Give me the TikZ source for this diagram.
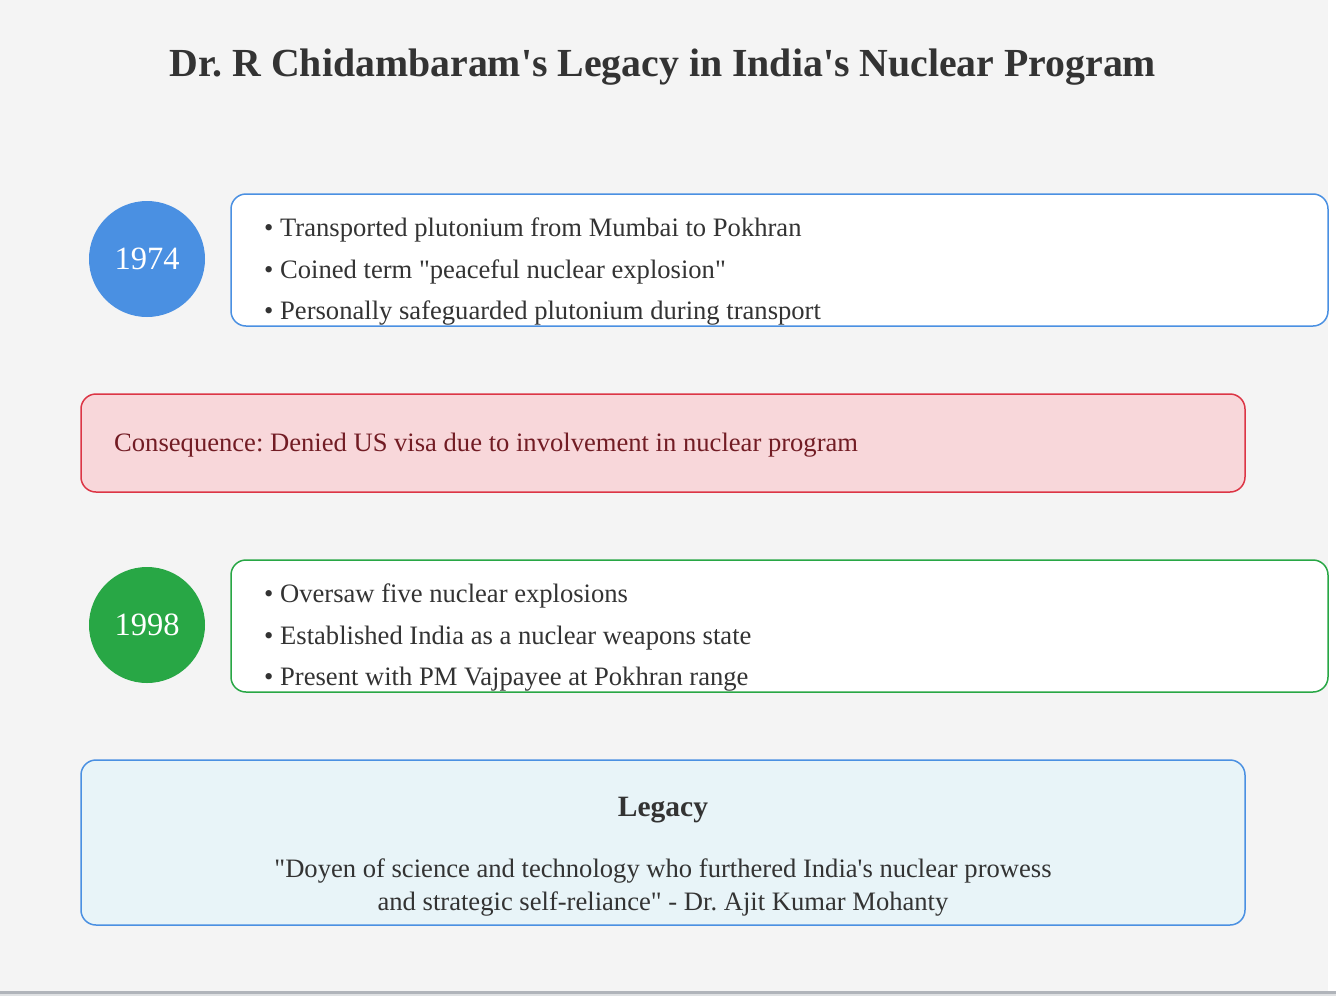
\documentclass[tikz,border=0pt]{standalone}
\usepackage{fontspec}
\setmainfont[Ligatures=TeXOff]{Liberation Serif}
\frenchspacing
\definecolor{bg}{HTML}{F4F4F4}
\definecolor{txt}{HTML}{333333}
\definecolor{blueA}{HTML}{4A90E2}
\definecolor{greenA}{HTML}{28A745}
\definecolor{redB}{HTML}{DC3545}
\definecolor{redF}{HTML}{F8D7DA}
\definecolor{redT}{HTML}{721C24}
\definecolor{legF}{HTML}{E8F4F8}
\definecolor{lineG}{HTML}{B0B4BA}
\begin{document}
\begin{tikzpicture}[x=1pt,y=-1pt,
  yearc/.style={circle,minimum size=116pt,inner sep=0pt,text=white,font=\fontsize{32.5}{38}\selectfont},
  infobox/.style={draw,line width=1.5pt,rounded corners=15pt,fill=white},
  bul/.style={anchor=west,text=txt,font=\fontsize{26.6}{31}\selectfont,inner sep=0pt}]
\useasboundingbox (0,0) rectangle (1336,996);
\fill[white] (0,0) rectangle (1336,996);
\fill[bg] (0,0) rectangle (1328,991);
\fill[lineG] (0,991) rectangle (1336,994);
\fill[lineG!40!white] (0,994) rectangle (1336,996);
\node[text=txt,font=\bfseries\fontsize{39.8}{46}\selectfont] (title) at (663,67) {Dr. R Chidambaram's Legacy in India's Nuclear Program};
% 1974
\node[yearc,fill=blueA] (y74) at (147,259) {1974};
\draw[infobox,draw=blueA] (231,194) rectangle (1328,326);
\node[bul] (a1) at (264,230) {\textbullet\ Transported plutonium from Mumbai to Pokhran};
\node[bul] (a2) at (264,272) {\textbullet\ Coined term "peaceful nuclear explosion"};
\node[bul] (a3) at (264,313) {\textbullet\ Personally safeguarded plutonium during transport};
% consequence
\draw[draw=redB,fill=redF,line width=1.5pt,rounded corners=15pt] (81,394) rectangle (1245,492);
\node[bul,text=redT] (cons) at (114,445) {Consequence: Denied US visa due to involvement in nuclear program};
% 1998
\node[yearc,fill=greenA] (y98) at (147,625) {1998};
\draw[infobox,draw=greenA] (231,560) rectangle (1328,692);
\node[bul] (b1) at (264,596) {\textbullet\ Oversaw five nuclear explosions};
\node[bul] (b2) at (264,638) {\textbullet\ Established India as a nuclear weapons state};
\node[bul] (b3) at (264,679) {\textbullet\ Present with PM Vajpayee at Pokhran range};
% legacy
\draw[draw=blueA,fill=legF,line width=1.5pt,rounded corners=15pt] (81,760) rectangle (1245,925);
\node[text=txt,font=\bfseries\fontsize{29.5}{34}\selectfont] (leg) at (663,810) {Legacy};
\node[text=txt,font=\fontsize{26.6}{31}\selectfont] (q1) at (663,871) {"Doyen of science and technology who furthered India's nuclear prowess};
\node[text=txt,font=\fontsize{26.6}{31}\selectfont] (q2) at (663,904) {and strategic self-reliance" - Dr. Ajit Kumar Mohanty};
\end{tikzpicture}
\end{document}
